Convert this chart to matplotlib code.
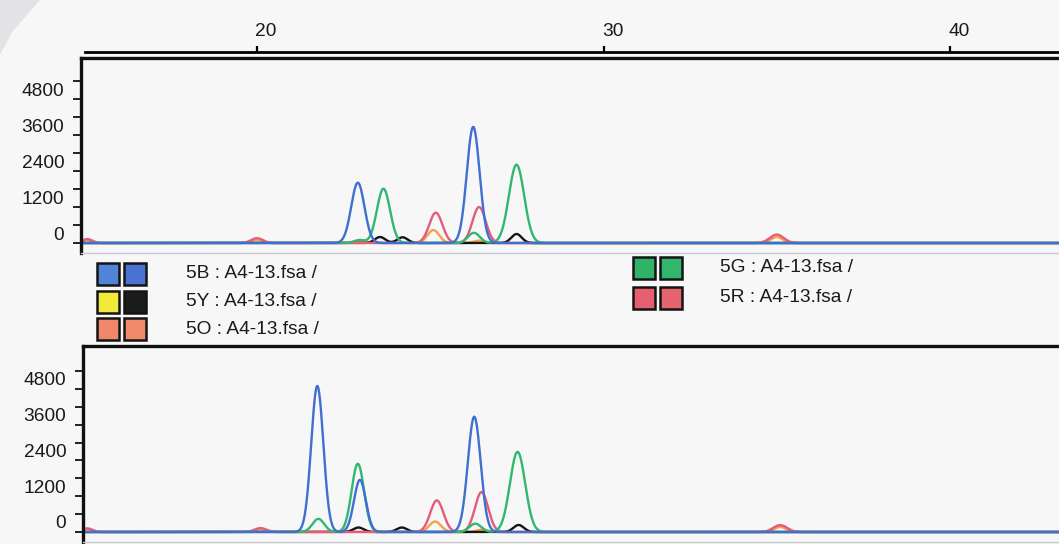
import numpy as np
import matplotlib
matplotlib.use("Agg")
import matplotlib.pyplot as plt
import matplotlib.transforms as mtransforms
from matplotlib.patches import Rectangle, Polygon
from matplotlib.ticker import FixedLocator

plt.rcParams['font.family'] = ['Liberation Sans', 'DejaVu Sans']

# peak tables: position (size units), height (RFU), width (sigma)
# --- upper panel ---
top_blue_pos = [22.91, 26.24]
top_blue_h = [2010, 3870]
top_blue_w = [0.19, 0.185]

top_green_pos = [22.95, 23.65, 26.26, 27.49]
top_green_h = [100, 1810, 340, 2610]
top_green_w = [0.15, 0.19, 0.17, 0.22]

top_red_pos = [15.10, 20.00, 25.16, 26.41, 35.00]
top_red_h = [130, 160, 1010, 1200, 280]
top_red_w = [0.15, 0.17, 0.19, 0.19, 0.2]

top_orange_pos = [15.10, 20.00, 22.95, 25.09, 26.40, 35.00]
top_orange_h = [90, 110, 60, 430, 80, 200]
top_orange_w = [0.13, 0.15, 0.15, 0.17, 0.15, 0.17]

top_black_pos = [23.55, 24.20, 27.49]
top_black_h = [200, 190, 300]
top_black_w = [0.15, 0.15, 0.15]

# --- lower panel ---
bot_blue_pos = [21.74, 22.97, 26.27]
bot_blue_h = [4900, 1750, 3870]
bot_blue_w = [0.175, 0.17, 0.185]

bot_green_pos = [21.77, 22.91, 26.30, 27.52]
bot_green_h = [440, 2290, 280, 2690]
bot_green_w = [0.17, 0.18, 0.17, 0.22]

bot_red_pos = [15.10, 20.10, 25.19, 26.48, 35.10]
bot_red_h = [120, 130, 1060, 1340, 230]
bot_red_w = [0.15, 0.17, 0.19, 0.19, 0.2]

bot_orange_pos = [15.10, 20.10, 25.14, 26.50, 35.10]
bot_orange_h = [100, 100, 350, 80, 170]
bot_orange_w = [0.13, 0.15, 0.17, 0.15, 0.17]

bot_black_pos = [22.93, 24.18, 27.55]
bot_black_h = [150, 150, 235]
bot_black_w = [0.15, 0.15, 0.15]

y_ticks = [0, 1200, 2400, 3600, 4800]
x_ticks = [20, 30, 40]

legend_left = ["5B : A4-13.fsa /", "5Y : A4-13.fsa /", "5O : A4-13.fsa /"]
legend_left_colors = [("#4f84d6", "#4a72d0"), ("#f2ea3a", "#1c1c1c"), ("#f0866a", "#f08a68")]
legend_right = ["5G : A4-13.fsa /", "5R : A4-13.fsa /"]
legend_right_colors = [("#2fb467", "#32b56c"), ("#e4606e", "#e6646f")]

BLUE = "#3f6fd0"
GREEN = "#2fb86e"
RED = "#e45c78"
ORANGE = "#f4a050"
BLACK = "#151515"
BG = "#f7f7f8"
FS = 13.8

W, H = 1059, 544


def fx(px):
    return px / W


def fy(py):
    return 1 - py / H


def xval(px):
    # calibration of the size scale: 20 at px 257, 34.65 px per unit
    return 20 + (px - 257) / 34.65


def trace(x, pos, h, w):
    y = np.zeros_like(x)
    for p, a, s in zip(pos, h, w):
        y += a * np.exp(-0.5 * ((x - p) / s) ** 2)
    return y


fig = plt.figure(figsize=(W / 100, H / 100), dpi=100, facecolor=BG)

# scanner shadow in the corner
fig.patches.append(Polygon([(fx(0), fy(0)), (fx(40), fy(0)), (fx(12), fy(32)), (fx(0), fy(55))],
                           closed=True, transform=fig.transFigure, facecolor="#e3e3e5",
                           edgecolor="none"))


def panel(rect_px, ylim, series):
    left, top, right, bottom = rect_px
    ax = fig.add_axes([fx(left), fy(bottom), fx(right) - fx(left), fy(top) - fy(bottom)])
    ax.set_facecolor(BG)
    xmin, xmax = xval(left), xval(right)
    ax.set_xlim(xmin, xmax)
    ax.set_ylim(*ylim)
    x = np.linspace(xmin, xmax, 4000)
    for pos, h, w, col in series:
        ax.plot(x, trace(x, pos, h, w), color=col, lw=1.7, solid_joinstyle='round')
    ax.set_xticks([])
    ax.yaxis.set_major_locator(FixedLocator(y_ticks))
    ax.set_yticklabels([str(v) for v in y_ticks], fontsize=FS, color="#1a1a1a")
    ax.yaxis.set_minor_locator(FixedLocator(np.arange(600, 5401, 1200)))
    ax.tick_params(axis='y', which='both', direction='out', length=6, width=1.4,
                   color="#222222", pad=6)
    offset = mtransforms.ScaledTranslation(0, 0.10, fig.dpi_scale_trans)
    for lab in ax.get_yticklabels():
        lab.set_transform(lab.get_transform() + offset)
    for side in ['top', 'left']:
        ax.spines[side].set_linewidth(2.4)
        ax.spines[side].set_color("#111111")
    ax.spines['bottom'].set_color("#c9c9d2")
    ax.spines['bottom'].set_linewidth(1.0)
    ax.spines['right'].set_visible(False)
    return ax


ax1 = panel((81, 58, 1065, 253), (-333, 6167), [
    (top_orange_pos, top_orange_h, top_orange_w, ORANGE),
    (top_black_pos, top_black_h, top_black_w, BLACK),
    (top_red_pos, top_red_h, top_red_w, RED),
    (top_green_pos, top_green_h, top_green_w, GREEN),
    (top_blue_pos, top_blue_h, top_blue_w, BLUE),
])

ax2 = panel((83, 346, 1067, 542), (-336, 6243), [
    (bot_orange_pos, bot_orange_h, bot_orange_w, ORANGE),
    (bot_black_pos, bot_black_h, bot_black_w, BLACK),
    (bot_red_pos, bot_red_h, bot_red_w, RED),
    (bot_green_pos, bot_green_h, bot_green_w, GREEN),
    (bot_blue_pos, bot_blue_h, bot_blue_w, BLUE),
])

# size scale above the upper panel
scale = ax1.twiny()
scale.set_xlim(ax1.get_xlim())
for side in ['bottom', 'left', 'right']:
    scale.spines[side].set_visible(False)
scale.spines['top'].set_position(('outward', 4.3))
scale.spines['top'].set_linewidth(2.0)
scale.spines['top'].set_bounds(xval(85), xval(1065))
scale.set_xticks(x_ticks)
scale.set_xticklabels([str(v) for v in x_ticks], fontsize=FS, color="#1a1a1a")
scale.tick_params(axis='x', direction='out', length=4.5, width=1.6, pad=4)
xoff = mtransforms.ScaledTranslation(0.09, 0, fig.dpi_scale_trans)
for lab in scale.get_xticklabels():
    lab.set_transform(lab.get_transform() + xoff)


# legend between the panels
def legend_row(x_sq, y_center, colors, label, x_text):
    for i, c in enumerate(colors):
        x0 = x_sq + i * 27
        fig.patches.append(Rectangle((fx(x0), fy(y_center + 11)), 22 / W, 22 / H,
                                     transform=fig.transFigure, facecolor=c,
                                     edgecolor="#141414", linewidth=1.8))
    fig.text(fx(x_text), fy(y_center), label, fontsize=FS, color="#1a1a1a",
             ha='left', va='center')


for i, (lab, cols) in enumerate(zip(legend_left, legend_left_colors)):
    legend_row(97, 274 + i * 27.5, cols, lab, 186)

for i, (lab, cols) in enumerate(zip(legend_right, legend_right_colors)):
    legend_row(633, 268 + i * 29.5, cols, lab, 720)

fig.savefig("out.png", dpi=100, facecolor=BG)
